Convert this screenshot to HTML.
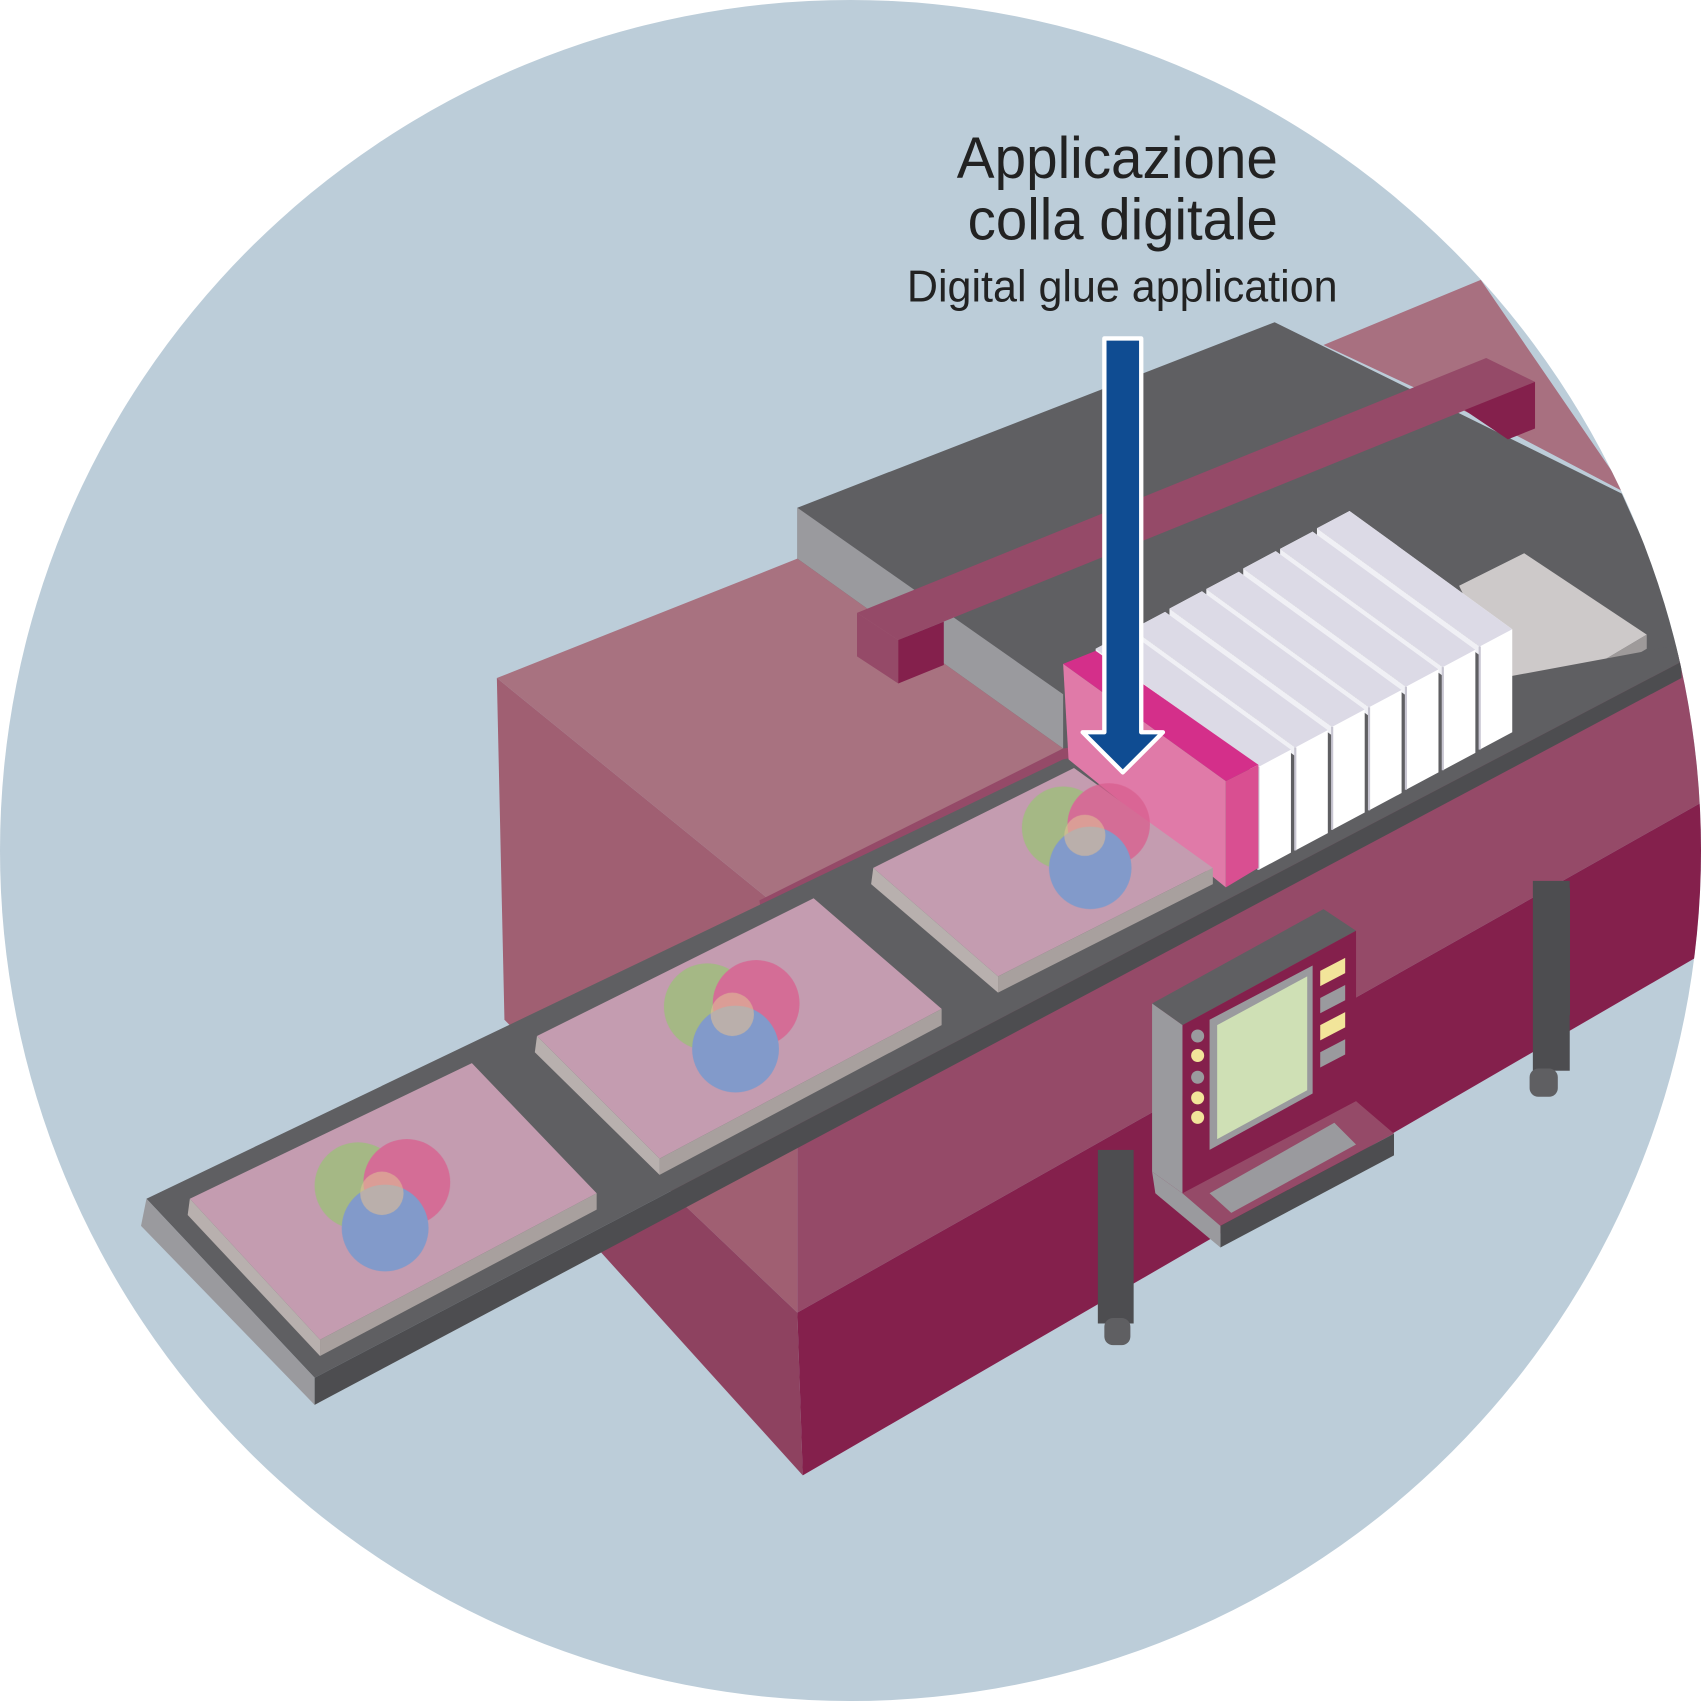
<!DOCTYPE html>
<html><head><meta charset="utf-8"><style>html,body{margin:0;padding:0;background:#fff}svg{display:block}</style></head>
<body>
<svg width="1701" height="1701" viewBox="0 0 1568 1568" xmlns="http://www.w3.org/2000/svg">
<defs><clipPath id="c"><circle cx="784" cy="784" r="784"/></clipPath></defs>
<circle cx="784" cy="784" r="784" fill="#bccdd9"/>
<g clip-path="url(#c)">
<polygon points="1220,318 1365,258 1500,455 1395,400" fill="#a87080"/>
<polygon points="735,468 1175,297 1495,455 1560,600 980,870 735,515" fill="#5f5f62"/>
<polygon points="735,468 735,515 980,690 980,640" fill="#9a9a9e"/>
<polygon points="458,625 735,515 980,690 710,830" fill="#a87280"/>
<polygon points="458,625 710,830 735,1055 735,1210 630,1110 465,940" fill="#a05f72"/>
<polygon points="550,1150 740,1360 735,1210 630,1110" fill="#8e4260"/>
<polygon points="700,830 980,690 1568,600 1568,740 735,1210 735,1055" fill="#954a68"/>
<polygon points="735,1210 1568,740 1568,880 740,1360" fill="#84204c"/>
<!-- rail bar -->
<polygon points="790,565 1370,330 1415,352 828,590" fill="#954a68"/>
<polygon points="790,565 828,590 828,630 790,605" fill="#954a68"/>
<polygon points="828,590 870,573 870,613 828,630" fill="#84204c"/>
<polygon points="1350,378 1415,352 1415,395 1390,405" fill="#84204c"/>
<!-- light pad -->
<polygon points="1345,540 1405,510 1518,585 1400,655" fill="#cdc9c9"/>
<polygon points="1400,655 1518,585 1518,598 1400,668" fill="#9e9a9a"/>
<!-- conveyor -->
<polygon points="135,1105 980,700 1545,595 1550,610 290,1270" fill="#5f5f62"/>
<polygon points="290,1270 1550,610 1550,625 290,1295" fill="#4d4d50"/>
<polygon points="135,1105 290,1270 290,1295 130,1130" fill="#9a9a9e"/>
<!-- white heads: slabs drawn back (right) to front (left) -->
<g>
<polygon points="1214,487 1244,471 1394,580 1394,675 1364,691 1364,596" fill="#fff"/><polygon points="1214,487 1244,471 1394,580 1364,596" fill="#dcdae6"/><polygon points="1214,487 1364,596 1364,604 1214,495" fill="#f0f0f5"/><line x1="1364" y1="596" x2="1364" y2="691" stroke="#c8c6d2" stroke-width="2"/>
<polygon points="1180,506 1210,490 1360,599 1360,694 1330,710 1330,615" fill="#fff"/><polygon points="1180,506 1210,490 1360,599 1330,615" fill="#dcdae6"/><polygon points="1180,506 1330,615 1330,623 1180,514" fill="#f0f0f5"/><line x1="1330" y1="615" x2="1330" y2="710" stroke="#c8c6d2" stroke-width="2"/>
<polygon points="1146,524 1176,508 1326,617 1326,712 1296,728 1296,633" fill="#fff"/><polygon points="1146,524 1176,508 1326,617 1296,633" fill="#dcdae6"/><polygon points="1146,524 1296,633 1296,641 1146,532" fill="#f0f0f5"/><line x1="1296" y1="633" x2="1296" y2="728" stroke="#c8c6d2" stroke-width="2"/>
<polygon points="1112,543 1142,527 1292,636 1292,731 1262,747 1262,652" fill="#fff"/><polygon points="1112,543 1142,527 1292,636 1262,652" fill="#dcdae6"/><polygon points="1112,543 1262,652 1262,660 1112,551" fill="#f0f0f5"/><line x1="1262" y1="652" x2="1262" y2="747" stroke="#c8c6d2" stroke-width="2"/>
<polygon points="1078,561 1108,545 1258,654 1258,749 1228,765 1228,670" fill="#fff"/><polygon points="1078,561 1108,545 1258,654 1228,670" fill="#dcdae6"/><polygon points="1078,561 1228,670 1228,678 1078,569" fill="#f0f0f5"/><line x1="1228" y1="670" x2="1228" y2="765" stroke="#c8c6d2" stroke-width="2"/>
<polygon points="1044,580 1074,564 1224,673 1224,768 1194,784 1194,689" fill="#fff"/><polygon points="1044,580 1074,564 1224,673 1194,689" fill="#dcdae6"/><polygon points="1044,580 1194,689 1194,697 1044,588" fill="#f0f0f5"/><line x1="1194" y1="689" x2="1194" y2="784" stroke="#c8c6d2" stroke-width="2"/>
<polygon points="1010,598 1040,582 1190,691 1190,786 1160,802 1160,707" fill="#fff"/><polygon points="1010,598 1040,582 1190,691 1160,707" fill="#dcdae6"/><polygon points="1010,598 1160,707 1160,715 1010,606" fill="#f0f0f5"/><line x1="1160" y1="707" x2="1160" y2="802" stroke="#c8c6d2" stroke-width="2"/>
</g>
<!-- pink head -->
<polygon points="980,612 1010,600 1160,705 1130,720" fill="#d42f8a"/>
<polygon points="980,612 1130,720 1130,818 985,700" fill="#e07aa8"/>
<polygon points="1130,720 1160,705 1160,800 1130,818" fill="#d94f91"/>
<!-- boards -->
<polygon points="175,1105 435,980 550,1100 295,1235" fill="#c49cb0"/>
<polygon points="295,1235 550,1100 550,1115 295,1250" fill="#a8a09e"/>
<polygon points="175,1105 295,1235 295,1250 173,1120" fill="#b8b0ae"/>
<polygon points="495,955 750,828 868,930 608,1068" fill="#c49cb0"/>
<polygon points="608,1068 868,930 868,945 608,1083" fill="#a8a09e"/>
<polygon points="495,955 608,1068 608,1083 493,970" fill="#b8b0ae"/>
<polygon points="805,800 990,708 1118,800 920,900" fill="#c49cb0"/>
<polygon points="920,900 1118,800 1118,815 920,915" fill="#a8a09e"/>
<polygon points="805,800 920,900 920,915 803,815" fill="#b8b0ae"/>
<!-- circles -->
<g opacity="0.78">
<g><circle cx="330" cy="1093" r="40" fill="#9cc07a"/><circle cx="375" cy="1090" r="40" fill="#d9608f"/><circle cx="355" cy="1132" r="40" fill="#6f9ad2"/><circle cx="352" cy="1100" r="20" fill="#e8c890" opacity="0.6"/></g>
<g><circle cx="652" cy="928" r="40" fill="#9cc07a"/><circle cx="697" cy="925" r="40" fill="#d9608f"/><circle cx="678" cy="967" r="40" fill="#6f9ad2"/><circle cx="675" cy="935" r="20" fill="#e8c890" opacity="0.6"/></g>
<g><circle cx="980" cy="763" r="38" fill="#9cc07a"/><circle cx="1022" cy="760" r="38" fill="#d9608f"/><circle cx="1005" cy="800" r="38" fill="#6f9ad2"/><circle cx="1000" cy="770" r="19" fill="#e8c890" opacity="0.6"/></g>
</g>
<!-- legs -->
<rect x="1012" y="1060" width="33" height="160" fill="#4d4d50"/>
<rect x="1018" y="1215" width="24" height="25" rx="8" fill="#5f5f62"/>
<rect x="1413" y="812" width="34" height="175" fill="#4d4d50"/>
<rect x="1410" y="985" width="26" height="26" rx="8" fill="#5f5f62"/>
<!-- control panel -->
<polygon points="1062,925 1220,838 1250,858 1090,945" fill="#5f5f62"/>
<polygon points="1090,945 1250,858 1250,1015 1090,1100" fill="#84204c"/>
<polygon points="1062,925 1090,945 1090,1100 1062,1080" fill="#9a9a9e"/>
<polygon points="1115,940 1210,890 1210,1008 1115,1060" fill="#9a9a9e"/>
<polygon points="1122,945 1205,900 1205,1005 1122,1050" fill="#cfe0b5"/>
<g fill="#f2e59a"><circle cx="1104" cy="973" r="6"/><circle cx="1104" cy="1012" r="6"/><circle cx="1104" cy="1030" r="6"/>
<polygon points="1217,895 1240,883 1240,897 1217,909"/><polygon points="1217,945 1240,933 1240,947 1217,959"/></g>
<g fill="#9a9a9e"><circle cx="1104" cy="955" r="6"/><circle cx="1104" cy="993" r="6"/>
<polygon points="1217,920 1240,908 1240,922 1217,934"/><polygon points="1217,970 1240,958 1240,972 1217,984"/></g>
<polygon points="1090,1100 1250,1015 1285,1045 1125,1130" fill="#954a68"/>
<polygon points="1125,1130 1285,1045 1285,1065 1125,1150" fill="#4d4d50"/>
<polygon points="1115,1100 1230,1035 1250,1055 1135,1118" fill="#9a9a9e"/>
<polygon points="1062,1080 1090,1100 1125,1130 1125,1150 1065,1100" fill="#9a9a9e"/>
<!-- arrow -->
<path d="M1018,312 H1052 V675 H1072 L1035,712 L998,675 H1018 Z" fill="#0f4c92" stroke="#fff" stroke-width="4" stroke-linejoin="round"/>
<!-- text -->
<g font-family="Liberation Sans, sans-serif" fill="#222">
<text x="882" y="164" font-size="54" textLength="296" lengthAdjust="spacingAndGlyphs">Applicazione</text>
<text x="892" y="221" font-size="54" textLength="286" lengthAdjust="spacingAndGlyphs">colla digitale</text>
<text x="836" y="278" font-size="41" textLength="397" lengthAdjust="spacingAndGlyphs">Digital glue application</text>
</g>
</g>
</svg>
</body></html>
